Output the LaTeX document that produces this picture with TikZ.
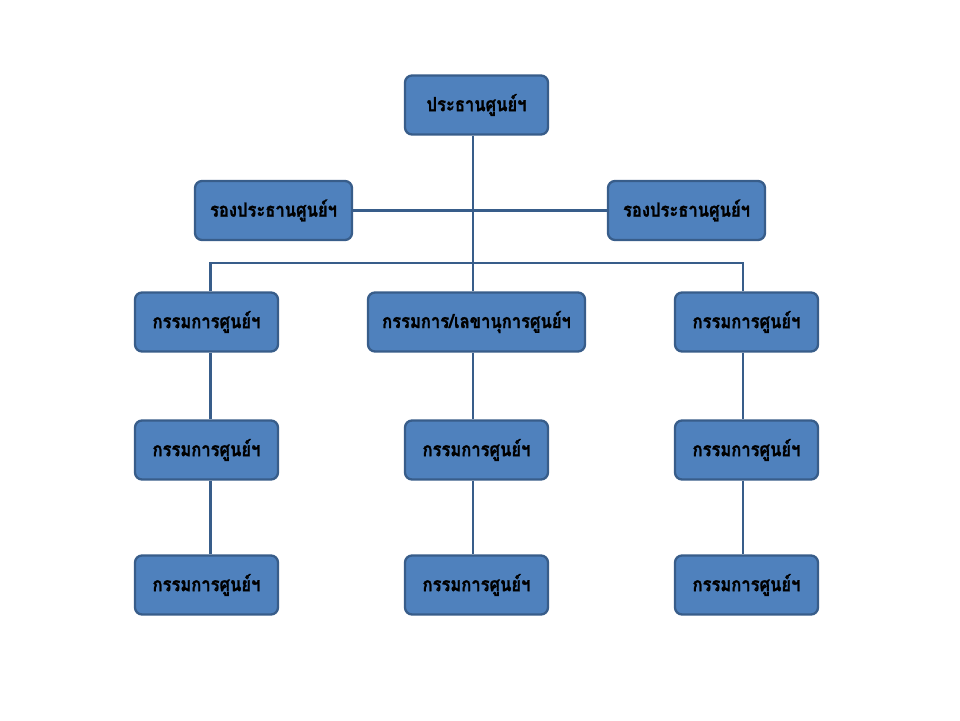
\documentclass[tikz,border=0pt]{standalone}
\usepackage{fontspec}
\newfontfamily\thaifont[Script=Thai,FakeStretch=0.85,FakeBold=1.2]{Loma}
\definecolor{boxfill}{HTML}{4F81BD}
\definecolor{boxline}{HTML}{385D8A}
\begin{document}
\begin{tikzpicture}[x=1pt,y=-1pt,
  orgbox/.style={draw=boxline,fill=boxfill,line width=2.3pt,rounded corners=7pt,
    minimum height=59pt,inner sep=0pt,font=\thaifont\bfseries\fontsize{19.5}{22}\selectfont,text=black},
  link/.style={draw=boxline,line width=2.8pt}]
\useasboundingbox[fill=white] (0,0) rectangle (960,720);
% nodes
\node[orgbox,minimum width=143pt] (top) at (476.5,105) {ประธานศูนย์ฯ};
\node[orgbox,minimum width=157pt] (vl) at (273.5,210.5) {รองประธานศูนย์ฯ};
\node[orgbox,minimum width=157pt] (vr) at (686.5,210.5) {รองประธานศูนย์ฯ};
\node[orgbox,minimum width=143pt] (a1) at (206.5,322) {กรรมการศูนย์ฯ};
\node[orgbox,minimum width=217pt] (b1) at (476.5,322) {กรรมการ/เลขานุการศูนย์ฯ};
\node[orgbox,minimum width=143pt] (c1) at (746.5,322) {กรรมการศูนย์ฯ};
\node[orgbox,minimum width=143pt] (a2) at (206.5,450) {กรรมการศูนย์ฯ};
\node[orgbox,minimum width=143pt] (b2) at (476.5,450) {กรรมการศูนย์ฯ};
\node[orgbox,minimum width=143pt] (c2) at (746.5,450) {กรรมการศูนย์ฯ};
\node[orgbox,minimum width=143pt] (a3) at (206.5,585) {กรรมการศูนย์ฯ};
\node[orgbox,minimum width=143pt] (b3) at (476.5,585) {กรรมการศูนย์ฯ};
\node[orgbox,minimum width=143pt] (c3) at (746.5,585) {กรรมการศูนย์ฯ};
% column lines
\coordinate (colA) at (210.5,263);
\coordinate (colB) at (473,263);
\coordinate (colC) at (743,263);
\path[link] (top.south -| colB) -- (b1.north -| colB);
\path[link] (vl.east) -- (vr.west);
\path[link] (colA |- a1.north) -- (colA) -- (colC) -- (colC |- c1.north);
\path[link] (a1.south -| colA) -- (a2.north -| colA);
\path[link] (a2.south -| colA) -- (a3.north -| colA);
\path[link] (b1.south -| colB) -- (b2.north -| colB);
\path[link] (b2.south -| colB) -- (b3.north -| colB);
\path[link] (c1.south -| colC) -- (c2.north -| colC);
\path[link] (c2.south -| colC) -- (c3.north -| colC);
\end{tikzpicture}
\end{document}
